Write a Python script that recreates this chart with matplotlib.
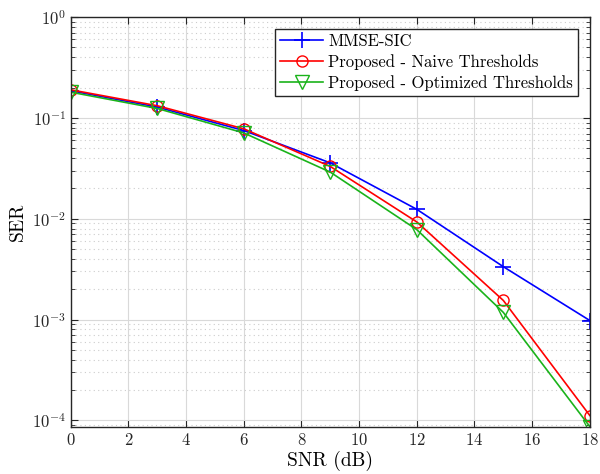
import matplotlib
matplotlib.use("Agg")
import matplotlib.pyplot as plt
import numpy as np
from matplotlib.ticker import LogLocator, NullFormatter

plt.rcParams['font.family'] = 'serif'
plt.rcParams['font.serif'] = ['cmr10']
plt.rcParams['mathtext.fontset'] = 'cm'
plt.rcParams['axes.formatter.use_mathtext'] = True

snr = [0, 3, 6, 9, 12, 15, 18]
ser_mmse = [0.186, 0.128, 0.075, 0.0358, 0.0124, 0.00335, 0.00098]
ser_naive = [0.190, 0.132, 0.078, 0.0330, 0.0093, 0.00155, 0.000112]
ser_opt = [0.180, 0.124, 0.071, 0.0290, 0.0078, 0.00118, 0.000087]

fig = plt.figure(figsize=(6, 4.74), dpi=100)
ax = fig.add_axes([0.118, 0.099, 0.865, 0.865])

ax.plot(snr, ser_mmse, color=(0, 0, 1), marker='+', markersize=11, markeredgewidth=1.2,
        linewidth=1.2, label='MMSE-SIC')
ax.plot(snr, ser_naive, color=(1, 0, 0), marker='o', markersize=8, markerfacecolor='none',
        linewidth=1.2, label='Proposed - Naive Thresholds')
ax.plot(snr, ser_opt, color=(0.1, 0.7, 0.1), marker='v', markersize=10, markerfacecolor='none',
        linewidth=1.2, label='Proposed - Optimized Thresholds')

ax.set_yscale('log')
ax.set_xlim(0, 18)
ax.set_ylim(8.6e-5, 1)
ax.set_xticks(np.arange(0, 19, 2))
ax.yaxis.set_major_locator(LogLocator(base=10, numticks=10))
ax.yaxis.set_minor_locator(LogLocator(base=10, subs=np.arange(2, 10), numticks=20))
ax.yaxis.set_minor_formatter(NullFormatter())

ax.grid(True, which='major', color='0.85', linewidth=0.8)
ax.grid(True, which='minor', axis='y', color='0.8', linestyle=(0, (1, 3)), linewidth=0.8)
ax.set_axisbelow(True)
ax.tick_params(which='both', direction='in', top=True, right=True, colors='0.15', labelsize=12)
ax.tick_params(which='major', length=5)
ax.tick_params(which='minor', length=3)
for s in ax.spines.values():
    s.set_color('0.15')
    s.set_linewidth(1.0)

ax.set_xlabel('SNR (dB)', fontsize=14, labelpad=2)
ax.set_ylabel('SER', fontsize=14, labelpad=4)

leg = ax.legend(loc='upper right', fontsize=12, fancybox=False, framealpha=1,
                edgecolor='0.15', borderaxespad=0.7, handlelength=2.6,
                borderpad=0.3, labelspacing=0.3, handletextpad=0.3)
leg.get_frame().set_linewidth(1.0)

fig.savefig('out.png', dpi=100)
plt.close(fig)
